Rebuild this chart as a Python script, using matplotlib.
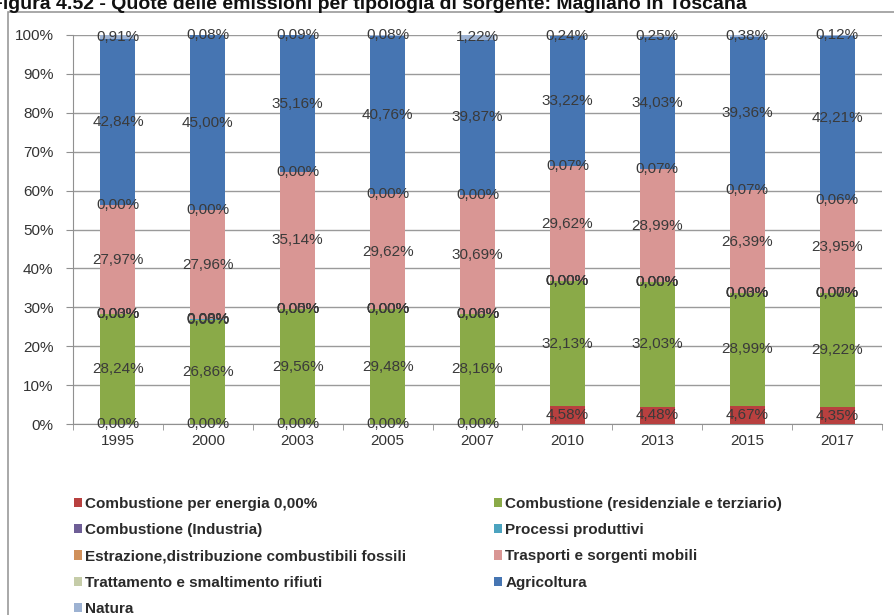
import matplotlib
matplotlib.use("Agg")
import matplotlib.pyplot as plt
from matplotlib.patches import Rectangle
import numpy as np

plt.rcParams['font.family'] = ['Liberation Sans', 'DejaVu Sans']

years = ["1995", "2000", "2003", "2005", "2007", "2010", "2013", "2015", "2017"]
series_names = [
    "Combustione per energia 0,00%",
    "Combustione (residenziale e terziario)",
    "Combustione (Industria)",
    "Processi produttivi",
    "Estrazione,distribuzione combustibili fossili",
    "Trasporti e sorgenti mobili",
    "Trattamento e smaltimento rifiuti",
    "Agricoltura",
    "Natura",
]
energia      = [0.00, 0.00, 0.00, 0.00, 0.00, 4.58, 4.48, 4.67, 4.35]
residenziale = [28.24, 26.86, 29.56, 29.48, 28.16, 32.13, 32.03, 28.99, 29.22]
industria    = [0.00, 0.00, 0.00, 0.00, 0.00, 0.00, 0.00, 0.00, 0.00]
processi     = [0.03, 0.08, 0.05, 0.00, 0.06, 0.00, 0.00, 0.03, 0.07]
estrazione   = [0.00, 0.00, 0.00, 0.00, 0.00, 0.00, 0.00, 0.00, 0.00]
trasporti    = [27.97, 27.96, 35.14, 29.62, 30.69, 29.62, 28.99, 26.39, 23.95]
rifiuti      = [0.00, 0.00, 0.00, 0.00, 0.00, 0.07, 0.07, 0.07, 0.06]
agricoltura  = [42.84, 45.00, 35.16, 40.76, 39.87, 33.22, 34.03, 39.36, 42.21]
natura       = [0.91, 0.08, 0.09, 0.08, 1.22, 0.24, 0.25, 0.38, 0.12]

data = [energia, residenziale, industria, processi, estrazione,
        trasporti, rifiuti, agricoltura, natura]
colors = ["#B8403F", "#8AAA48", "#6E5E96", "#4BA3BF", "#D0905A",
          "#D99694", "#C5CCA8", "#4675B2", "#9DB2D2"]

fig = plt.figure(figsize=(8.95, 6.15), dpi=100)
ax = fig.add_axes([73/895, 1-424/615, (882-73)/895, (424-35)/615])

x = np.arange(len(years))
bottom = np.zeros(len(years))
bars = []
for vals, col, name in zip(data, colors, series_names):
    v = np.array(vals)
    b = ax.bar(x, v, width=0.39, bottom=bottom, color=col, label=name, zorder=3)
    bars.append(b)
    for xi, bi, vi in zip(x, bottom, v):
        ax.text(xi, bi + vi/2, f"{vi:.2f}%".replace('.', ','), ha='center', va='center',
                fontsize=11, color='#3a3a3a', zorder=5)
    bottom = bottom + v

ax.set_xlim(-0.5, len(years)-0.5)
ax.set_ylim(0, 100)
ax.set_yticks(np.arange(0, 101, 10))
ax.set_yticklabels([f"{t}%" for t in range(0, 101, 10)], fontsize=11, color='#333333')
ax.set_xticks(x)
ax.set_xticklabels(years, fontsize=11, color='#333333')
ax.set_xticks(np.arange(-0.5, len(years), 1), minor=True)
ax.tick_params(axis='x', which='major', length=0, pad=7)
ax.tick_params(axis='x', which='minor', length=4, color='#909090', direction='out')
ax.tick_params(axis='y', length=5, color='#909090', pad=9)
ax.grid(axis='y', color='#9a9a9a', linewidth=1, zorder=0)
for s in ['top', 'right']:
    ax.spines[s].set_visible(False)
for s in ['left', 'bottom']:
    ax.spines[s].set_color('#909090')

# Legend (two columns, row-major ordering)
handles = [b[0] for b in bars]
order_col1 = [0, 2, 4, 6, 8]
order_col2 = [1, 3, 5, 7]
common = dict(loc='upper left', frameon=False, handlelength=0.55, handleheight=0.55,
              handletextpad=0.2, labelspacing=0.8, borderaxespad=0, borderpad=0,
              prop={'size': 11, 'weight': 'bold'}, labelcolor='#2a2a2a')
leg1 = fig.legend([handles[i] for i in order_col1], [series_names[i] for i in order_col1],
                  bbox_to_anchor=(74/895, 1-497/615), **common)
leg2 = fig.legend([handles[i] for i in order_col2], [series_names[i] for i in order_col2],
                  bbox_to_anchor=(494/895, 1-497/615), **common)

# Outer frame of the chart
fig.add_artist(Rectangle((8/895, -0.05), 1.0, 1-12/615+0.05, transform=fig.transFigure,
                         fill=False, edgecolor='#9a9a9a', linewidth=1.2))

# Title (cut at the top like in the reference)
fig.text(-9/895, 1-9/615, "Figura 4.52 - Quote delle emissioni per tipologia di sorgente: Magliano in Toscana",
         ha='left', va='baseline', fontsize=14, fontweight='bold', color='#111111')

fig.savefig("out.png", dpi=100)
